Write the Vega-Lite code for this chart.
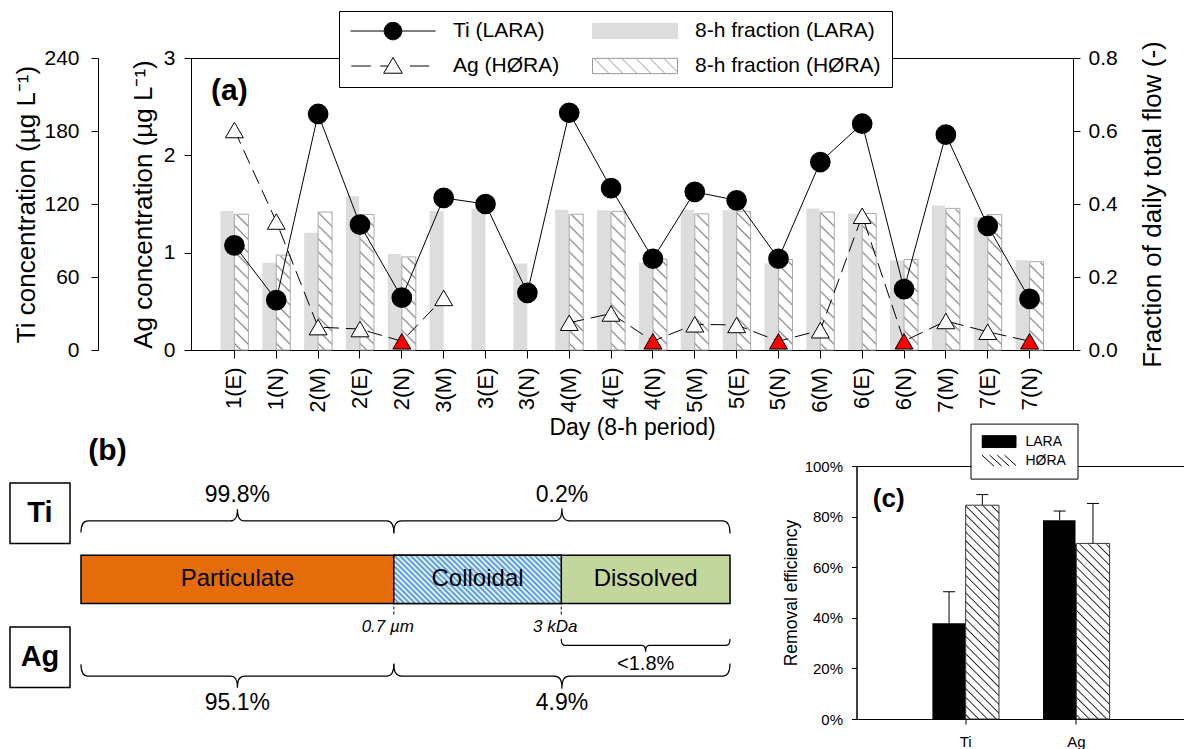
{
"$schema": "https://vega.github.io/schema/vega-lite/v6.json",
"background": "white",
"padding": {"left": 9, "top": 10, "right": 0, "bottom": 0},
"spacing": -18,
"resolve": {"scale": {"fill": "independent", "stroke": "independent", "opacity": "independent", "size": "independent", "shape": "independent", "xOffset": "independent"}},
"config": {
  "font": "Liberation Sans",
  "view": {"stroke": "black", "strokeWidth": 1},
  "axis": {"labelColor": "black", "titleColor": "black", "domainColor": "black", "tickColor": "black", "titleFontWeight": "normal", "grid": false},
  "legend": {"labelColor": "black"}
},
"datasets": {
  "a": [
    {"period":"1(E)","ti":86,"ag":2.26,"bdl":false,"fl":0.381,"fh":0.372},
    {"period":"1(N)","ti":41,"ag":1.32,"bdl":false,"fl":0.239,"fh":0.26},
    {"period":"2(M)","ti":194,"ag":0.235,"bdl":false,"fl":0.321,"fh":0.378},
    {"period":"2(E)","ti":103,"ag":0.215,"bdl":false,"fl":0.421,"fh":0.371},
    {"period":"2(N)","ti":43,"ag":0.09,"bdl":true,"fl":0.263,"fh":0.255},
    {"period":"3(M)","ti":125,"ag":0.535,"bdl":false,"fl":0.381,"fh":null},
    {"period":"3(E)","ti":120,"ag":null,"bdl":false,"fl":0.388,"fh":null},
    {"period":"3(N)","ti":47,"ag":null,"bdl":false,"fl":0.237,"fh":null},
    {"period":"4(M)","ti":195,"ag":0.28,"bdl":false,"fl":0.384,"fh":0.372},
    {"period":"4(E)","ti":133,"ag":0.375,"bdl":false,"fl":0.383,"fh":0.38},
    {"period":"4(N)","ti":75,"ag":0.09,"bdl":true,"fl":0.24,"fh":0.249},
    {"period":"5(M)","ti":130,"ag":0.264,"bdl":false,"fl":0.384,"fh":0.373},
    {"period":"5(E)","ti":123,"ag":0.257,"bdl":false,"fl":0.383,"fh":0.38},
    {"period":"5(N)","ti":75,"ag":0.09,"bdl":true,"fl":0.238,"fh":0.248},
    {"period":"6(M)","ti":154.5,"ag":0.203,"bdl":false,"fl":0.388,"fh":0.378},
    {"period":"6(E)","ti":186,"ag":1.379,"bdl":false,"fl":0.373,"fh":0.374},
    {"period":"6(N)","ti":50,"ag":0.09,"bdl":true,"fl":0.245,"fh":0.248},
    {"period":"7(M)","ti":177,"ag":0.298,"bdl":false,"fl":0.396,"fh":0.388},
    {"period":"7(E)","ti":102,"ag":0.187,"bdl":false,"fl":0.364,"fh":0.371},
    {"period":"7(N)","ti":42,"ag":0.09,"bdl":true,"fl":0.246,"fh":0.242}
  ],
  "a_legend": [{"k":"Ti (LARA)"},{"k":"Ag (HØRA)"},{"k":"8-h fraction (LARA)"},{"k":"8-h fraction (HØRA)"}],
  "c": [
    {"metal":"Ti","plant":"LARA","eff":0.378,"hi":0.503},
    {"metal":"Ti","plant":"HØRA","eff":0.845,"hi":0.887},
    {"metal":"Ag","plant":"LARA","eff":0.786,"hi":0.822},
    {"metal":"Ag","plant":"HØRA","eff":0.694,"hi":0.852}
  ],
  "c_legend": [{"p":"LARA"},{"p":"HØRA"}],
  "segments": [{"name":"Particulate","from":0,"to":48.2},{"name":"Colloidal","from":48.2,"to":74},{"name":"Dissolved","from":74,"to":100}],
  "ti_frac": [{"label":"99.8%","from":0,"to":48.2},{"label":"0.2%","from":48.2,"to":100}],
  "ag_frac": [{"label":"95.1%","from":0,"to":48.2},{"label":"4.9%","from":48.2,"to":100}],
  "ag_dissolved": [{"label":"<1.8%","from":74,"to":100}],
  "cutoffs": [{"label":"0.7 µm","at":48.2},{"label":"3 kDa","at":74}]
},
"vconcat": [
{
  "width": 882, "height": 292,
  "data": {"name": "a"},
  "encoding": {
    "x": {"field": "period", "type": "nominal",
      "scale": {"domain": ["1(E)","1(N)","2(M)","2(E)","2(N)","3(M)","3(E)","3(N)","4(M)","4(E)","4(N)","5(M)","5(E)","5(N)","6(M)","6(E)","6(N)","7(M)","7(E)","7(N)"], "paddingInner": 0.331, "paddingOuter": 0.703},
      "axis": {"title": "Day (8-h period)", "labelAngle": -90, "labelFontSize": 22, "labelPadding": 9, "tickSize": 8, "titleFontSize": 23, "titlePadding": 4, "labelOverlap": false}}
  },
  "layer": [
    {"layer": [
      {"mark": {"type": "bar", "fill": "#dddddd"},
       "encoding": {
         "xOffset": {"datum": "LARA", "type": "nominal", "scale": {"domain": ["LARA","HØRA"], "paddingInner": 0, "paddingOuter": 0}},
         "y": {"field": "fl", "type": "quantitative", "scale": {"domain": [0, 0.8], "nice": false},
               "axis": {"orient": "right", "values": [0,0.2,0.4,0.6,0.8], "format": ".1f", "tickSize": 7, "labelPadding": 8, "labelFontSize": 21, "title": "Fraction of daily total flow (-)", "titleFontSize": 26, "titleAngle": 270, "titleBaseline": "top", "titlePadding": 22, "titleLimit": 600}}}},
      {"transform": [{"filter": "isValid(datum.fh)"}],
       "mark": {"type": "bar", "fill": {"gradient": "linear", "x1": 0, "y1": 1, "x2": 0.0821, "y2": -0.0704, "stops": [
{"offset":0.0243,"color":"#ffffff"},{"offset":0.0333,"color":"#888888"},{"offset":0.0423,"color":"#ffffff"},
{"offset":0.091,"color":"#ffffff"},{"offset":0.1,"color":"#888888"},{"offset":0.109,"color":"#ffffff"},
{"offset":0.1577,"color":"#ffffff"},{"offset":0.1667,"color":"#888888"},{"offset":0.1757,"color":"#ffffff"},
{"offset":0.2243,"color":"#ffffff"},{"offset":0.2333,"color":"#888888"},{"offset":0.2423,"color":"#ffffff"},
{"offset":0.291,"color":"#ffffff"},{"offset":0.3,"color":"#888888"},{"offset":0.309,"color":"#ffffff"},
{"offset":0.3577,"color":"#ffffff"},{"offset":0.3667,"color":"#888888"},{"offset":0.3757,"color":"#ffffff"},
{"offset":0.4243,"color":"#ffffff"},{"offset":0.4333,"color":"#888888"},{"offset":0.4423,"color":"#ffffff"},
{"offset":0.491,"color":"#ffffff"},{"offset":0.5,"color":"#888888"},{"offset":0.509,"color":"#ffffff"},
{"offset":0.5577,"color":"#ffffff"},{"offset":0.5667,"color":"#888888"},{"offset":0.5757,"color":"#ffffff"},
{"offset":0.6243,"color":"#ffffff"},{"offset":0.6333,"color":"#888888"},{"offset":0.6423,"color":"#ffffff"},
{"offset":0.691,"color":"#ffffff"},{"offset":0.7,"color":"#888888"},{"offset":0.709,"color":"#ffffff"},
{"offset":0.7577,"color":"#ffffff"},{"offset":0.7667,"color":"#888888"},{"offset":0.7757,"color":"#ffffff"},
{"offset":0.8243,"color":"#ffffff"},{"offset":0.8333,"color":"#888888"},{"offset":0.8423,"color":"#ffffff"},
{"offset":0.891,"color":"#ffffff"},{"offset":0.9,"color":"#888888"},{"offset":0.909,"color":"#ffffff"},
{"offset":0.9577,"color":"#ffffff"},{"offset":0.9667,"color":"#888888"},{"offset":0.9757,"color":"#ffffff"}]}},
       "encoding": {
         "xOffset": {"datum": "HØRA", "type": "nominal", "scale": {"domain": ["LARA","HØRA"], "paddingInner": 0, "paddingOuter": 0}},
         "y": {"datum": 0.5, "type": "quantitative", "scale": {"domain": [0, 0.8], "nice": false},
               "axis": {"orient": "right", "values": [0,0.2,0.4,0.6,0.8], "format": ".1f", "tickSize": 7, "labelPadding": 8, "labelFontSize": 21, "title": "Fraction of daily total flow (-)", "titleFontSize": 26, "titleAngle": 270, "titleBaseline": "top", "titlePadding": 22, "titleLimit": 600}},
         "y2": {"datum": 0}}},
      {"transform": [{"filter": "isValid(datum.fh)"}],
       "mark": {"type": "bar", "fill": "#ffffff", "stroke": "#ffffff", "strokeWidth": 1.6},
       "encoding": {
         "xOffset": {"datum": "HØRA", "type": "nominal", "scale": {"domain": ["LARA","HØRA"], "paddingInner": 0, "paddingOuter": 0}},
         "y": {"field": "fh", "type": "quantitative", "scale": {"domain": [0, 0.8], "nice": false},
               "axis": {"orient": "right", "values": [0,0.2,0.4,0.6,0.8], "format": ".1f", "tickSize": 7, "labelPadding": 8, "labelFontSize": 21, "title": "Fraction of daily total flow (-)", "titleFontSize": 26, "titleAngle": 270, "titleBaseline": "top", "titlePadding": 22, "titleLimit": 600}},
         "y2": {"datum": 0.5}}},
      {"transform": [{"filter": "isValid(datum.fh)"}],
       "mark": {"type": "bar", "fill": "#ffffff", "fillOpacity": 0, "stroke": "#aaaaaa", "strokeWidth": 1},
       "encoding": {
         "xOffset": {"datum": "HØRA", "type": "nominal", "scale": {"domain": ["LARA","HØRA"], "paddingInner": 0, "paddingOuter": 0}},
         "y": {"field": "fh", "type": "quantitative", "scale": {"domain": [0, 0.8], "nice": false},
               "axis": {"orient": "right", "values": [0,0.2,0.4,0.6,0.8], "format": ".1f", "tickSize": 7, "labelPadding": 8, "labelFontSize": 21, "title": "Fraction of daily total flow (-)", "titleFontSize": 26, "titleAngle": 270, "titleBaseline": "top", "titlePadding": 22, "titleLimit": 600}}}}
    ]},
    {"layer": [
      {"mark": {"type": "line", "color": "black", "strokeWidth": 1, "strokeDash": [15, 7], "invalid": "break-paths-show-domains"},
       "encoding": {"y": {"field": "ag", "type": "quantitative", "scale": {"domain": [0, 3], "nice": false},
          "axis": {"orient": "left", "values": [0,1,2,3], "format": "d", "tickSize": 7, "labelPadding": 9, "labelFontSize": 21, "title": "Ag concentration (µg L⁻¹)", "titleFontSize": 26, "titlePadding": 7, "titleLimit": 600}}}},
      {"mark": {"type": "point", "shape": "triangle-up", "size": 320, "filled": true, "stroke": "black", "strokeWidth": 1, "opacity": 1},
       "encoding": {"y": {"field": "ag", "type": "quantitative", "scale": {"domain": [0, 3], "nice": false},
          "axis": {"orient": "left", "values": [0,1,2,3], "format": "d", "tickSize": 7, "labelPadding": 9, "labelFontSize": 21, "title": "Ag concentration (µg L⁻¹)", "titleFontSize": 26, "titlePadding": 7, "titleLimit": 600}},
          "fill": {"condition": {"test": "datum.bdl", "value": "#ff0000"}, "value": "#ffffff"}}},
      {"data": {"values": [{"t": "(a)"}]},
       "mark": {"type": "text", "fontSize": 30, "fontWeight": "bold", "baseline": "middle", "align": "center", "dx": -5},
       "encoding": {
         "text": {"field": "t", "type": "nominal"},
         "x": {"datum": "1(E)", "type": "nominal",
           "scale": {"domain": ["1(E)","1(N)","2(M)","2(E)","2(N)","3(M)","3(E)","3(N)","4(M)","4(E)","4(N)","5(M)","5(E)","5(N)","6(M)","6(E)","6(N)","7(M)","7(E)","7(N)"], "paddingInner": 0.331, "paddingOuter": 0.703},
           "axis": {"title": "Day (8-h period)", "labelAngle": -90, "labelFontSize": 22, "labelPadding": 9, "tickSize": 8, "titleFontSize": 23, "titlePadding": 4, "labelOverlap": false}},
         "y": {"datum": 2.66, "type": "quantitative", "scale": {"domain": [0, 3], "nice": false},
          "axis": {"orient": "left", "values": [0,1,2,3], "format": "d", "tickSize": 7, "labelPadding": 9, "labelFontSize": 21, "title": "Ag concentration (µg L⁻¹)", "titleFontSize": 26, "titlePadding": 7, "titleLimit": 600}}}}
    ]},
    {"layer": [
      {"mark": {"type": "line", "color": "black", "strokeWidth": 1},
       "encoding": {"y": {"field": "ti", "type": "quantitative", "scale": {"domain": [0, 240], "nice": false},
          "axis": {"orient": "left", "offset": 93, "values": [0,60,120,180,240], "format": "d", "tickSize": 7, "labelPadding": 12, "labelFontSize": 21, "title": "Ti concentration (µg L⁻¹)", "titleFontSize": 26, "titlePadding": 4, "titleLimit": 600}}}},
      {"mark": {"type": "point", "shape": "circle", "filled": true, "fill": "black", "stroke": "black", "size": 350, "opacity": 1},
       "encoding": {
         "y": {"field": "ti", "type": "quantitative", "scale": {"domain": [0, 240], "nice": false},
          "axis": {"orient": "left", "offset": 93, "values": [0,60,120,180,240], "format": "d", "tickSize": 7, "labelPadding": 12, "labelFontSize": 21, "title": "Ti concentration (µg L⁻¹)", "titleFontSize": 26, "titlePadding": 4, "titleLimit": 600}}}},
      {"data": {"name": "a_legend"},
       "mark": {"type": "point", "filled": true, "opacity": 0},
       "encoding": {
         "x": {"datum": "1(E)", "type": "nominal",
           "scale": {"domain": ["1(E)","1(N)","2(M)","2(E)","2(N)","3(M)","3(E)","3(N)","4(M)","4(E)","4(N)","5(M)","5(E)","5(N)","6(M)","6(E)","6(N)","7(M)","7(E)","7(N)"], "paddingInner": 0.331, "paddingOuter": 0.703},
           "axis": {"title": "Day (8-h period)", "labelAngle": -90, "labelFontSize": 22, "labelPadding": 9, "tickSize": 8, "titleFontSize": 23, "titlePadding": 4, "labelOverlap": false}},
         "y": {"datum": 0, "type": "quantitative", "scale": {"domain": [0, 240], "nice": false},
          "axis": {"orient": "left", "offset": 93, "values": [0,60,120,180,240], "format": "d", "tickSize": 7, "labelPadding": 12, "labelFontSize": 21, "title": "Ti concentration (µg L⁻¹)", "titleFontSize": 26, "titlePadding": 4, "titleLimit": 600}},
         "shape": {"field": "k", "type": "nominal",
           "scale": {"domain": ["Ti (LARA)", "Ag (HØRA)", "8-h fraction (LARA)", "8-h fraction (HØRA)"],
                     "range": ["M-1,0H-0.21M0.21,0H1M-0.207,0A0.207,0.207,0,1,1,0.207,0A0.207,0.207,0,1,1,-0.207,0Z", "M-0.98,0H-0.52M-0.3,0H-0.12M0.4,0H0.85M0,-0.2L0.22,0.17L-0.22,0.17Z", "M-1,-0.18H1V0.18H-1Z", "M-1,-0.18H1V0.18H-1ZM-0.97,-0.18L-0.61,0.18M-0.64,-0.18L-0.28,0.18M-0.31,-0.18L0.05,0.18M0.02,-0.18L0.38,0.18M0.35,-0.18L0.71,0.18M0.68,-0.18L1,0.14"]},
           "legend": {"title": null, "orient": "none", "legendX": 148, "legendY": -47, "columns": 2, "symbolSize": 7225, "symbolOpacity": 1, "symbolStrokeWidth": 1, "labelFontSize": 21, "labelLimit": 400, "labelOffset": 17, "columnPadding": 32, "rowPadding": 14, "clipHeight": 18, "padding": 11, "strokeColor": "black", "fillColor": "white", "cornerRadius": 0}},
         "fill": {"field": "k", "type": "nominal",
           "scale": {"domain": ["Ti (LARA)", "Ag (HØRA)", "8-h fraction (LARA)", "8-h fraction (HØRA)"], "range": ["#000000", "#ffffff", "#dddddd", "#ffffff"]},
           "legend": {"title": null, "orient": "none", "legendX": 148, "legendY": -47, "columns": 2, "symbolSize": 7225, "symbolOpacity": 1, "symbolStrokeWidth": 1, "labelFontSize": 21, "labelLimit": 400, "labelOffset": 17, "columnPadding": 32, "rowPadding": 14, "clipHeight": 18, "padding": 11, "strokeColor": "black", "fillColor": "white", "cornerRadius": 0}},
         "stroke": {"field": "k", "type": "nominal",
           "scale": {"domain": ["Ti (LARA)", "Ag (HØRA)", "8-h fraction (LARA)", "8-h fraction (HØRA)"], "range": ["#000000", "#000000", "#dddddd", "#999999"]},
           "legend": {"title": null, "orient": "none", "legendX": 148, "legendY": -47, "columns": 2, "symbolSize": 7225, "symbolOpacity": 1, "symbolStrokeWidth": 1, "labelFontSize": 21, "labelLimit": 400, "labelOffset": 17, "columnPadding": 32, "rowPadding": 14, "clipHeight": 18, "padding": 11, "strokeColor": "black", "fillColor": "white", "cornerRadius": 0}}
       }}
    ]}
  ],
  "resolve": {"scale": {"y": "independent"}, "axis": {"y": "independent"}}
},
{
  "spacing": 38.5,
  "resolve": {"scale": {"fill": "independent", "stroke": "independent", "shape": "independent", "size": "independent", "xOffset": "independent"}},
  "hconcat": [
  {
    "width": 552, "height": 277.7,
    "view": {"stroke": null},
    "layer": [
      {"data": {"values": [{"metal": "Ti"}]},
       "mark": {"type": "rect", "fill": "#ffffff", "stroke": "#000000", "strokeWidth": 1.5},
       "encoding": {"x": {"datum": -10.94, "type": "quantitative", "scale": {"domain": [16.95, 102], "nice": false, "zero": false}, "axis": null}, "x2": {"datum": -1.69},
                    "y": {"datum": 24.97, "type": "quantitative", "scale": {"domain": [-29, 28.49], "nice": false, "zero": false}, "axis": null}, "y2": {"datum": 12.42}}},
      {"data": {"values": [{"metal": "Ti"}]},
       "mark": {"type": "text", "fontSize": 29, "fontWeight": "bold", "baseline": "middle", "align": "center"},
       "encoding": {"text": {"field": "metal", "type": "nominal"},
                    "x": {"datum": -6.32, "type": "quantitative", "scale": {"domain": [16.95, 102], "nice": false, "zero": false}, "axis": null},
                    "y": {"datum": 18.7, "type": "quantitative", "scale": {"domain": [-29, 28.49], "nice": false, "zero": false}, "axis": null}}},
      {"data": {"values": [{"metal": "Ag"}]},
       "mark": {"type": "rect", "fill": "#ffffff", "stroke": "#000000", "strokeWidth": 1.5},
       "encoding": {"x": {"datum": -10.94, "type": "quantitative", "scale": {"domain": [16.95, 102], "nice": false, "zero": false}, "axis": null}, "x2": {"datum": -1.69},
                    "y": {"datum": -4.84, "type": "quantitative", "scale": {"domain": [-29, 28.49], "nice": false, "zero": false}, "axis": null}, "y2": {"datum": -17.39}}},
      {"data": {"values": [{"metal": "Ag"}]},
       "mark": {"type": "text", "fontSize": 29, "fontWeight": "bold", "baseline": "middle", "align": "center"},
       "encoding": {"text": {"field": "metal", "type": "nominal"},
                    "x": {"datum": -6.32, "type": "quantitative", "scale": {"domain": [16.95, 102], "nice": false, "zero": false}, "axis": null},
                    "y": {"datum": -11.1, "type": "quantitative", "scale": {"domain": [-29, 28.49], "nice": false, "zero": false}, "axis": null}}},
      {"data": {"values": [{"t": "(b)"}]},
       "mark": {"type": "text", "fontSize": 30, "fontWeight": "bold", "baseline": "middle", "align": "center"},
       "encoding": {"text": {"field": "t", "type": "nominal"},
                    "x": {"datum": 4.08, "type": "quantitative", "scale": {"domain": [16.95, 102], "nice": false, "zero": false}, "axis": null},
                    "y": {"datum": 31.5, "type": "quantitative", "scale": {"domain": [-29, 28.49], "nice": false, "zero": false}, "axis": null}}},
      {"data": {"name": "ti_frac"},
       "transform": [{"calculate": "(datum.from + datum.to) / 2", "as": "mid"}, {"calculate": "datum.to - datum.from", "as": "span"}],
       "mark": {"type": "point", "shape": "M-1,0.075C-1,0.02,-0.985,0,-0.955,0L-0.045,0C-0.015,0,0,-0.02,0,-0.075C0,-0.02,0.015,0,0.045,0L0.955,0C0.985,0,1,0.02,1,0.075", "filled": false, "stroke": "#000000", "strokeWidth": 1.2, "opacity": 1},
       "encoding": {"x": {"field": "mid", "type": "quantitative", "scale": {"domain": [16.95, 102], "nice": false, "zero": false}, "axis": null},
                    "y": {"datum": 17.13, "type": "quantitative", "scale": {"domain": [-29, 28.49], "nice": false, "zero": false}, "axis": null},
                    "size": {"field": "span", "type": "quantitative", "scale": {"type": "pow", "exponent": 2, "domain": [0, 100], "range": [0, 421201]}, "legend": null}}},
      {"data": {"name": "ti_frac"},
       "transform": [{"calculate": "(datum.from + datum.to) / 2", "as": "mid"}],
       "mark": {"type": "text", "fontSize": 23, "baseline": "middle", "align": "center"},
       "encoding": {"text": {"field": "label", "type": "nominal"},
                    "x": {"field": "mid", "type": "quantitative", "scale": {"domain": [16.95, 102], "nice": false, "zero": false}, "axis": null},
                    "y": {"datum": 22.42, "type": "quantitative", "scale": {"domain": [-29, 28.49], "nice": false, "zero": false}, "axis": null}}},
      {"data": {"name": "segments"},
       "mark": {"type": "rect", "stroke": "#000000", "strokeWidth": 1.5},
       "encoding": {"x": {"field": "from", "type": "quantitative", "scale": {"domain": [16.95, 102], "nice": false, "zero": false}, "axis": null}, "x2": {"field": "to"},
                    "y": {"datum": 0, "type": "quantitative", "scale": {"domain": [-29, 28.49], "nice": false, "zero": false}, "axis": null}, "y2": {"datum": 10},
                    "fill": {"field": "name", "type": "nominal", "scale": {"domain": ["Particulate","Colloidal","Dissolved"], "range": ["#E46C0A","#ffffff","#C3D69B"]}, "legend": null}}},
      {"data": {"name": "segments"},
       "transform": [{"filter": "datum.name === 'Colloidal'"}],
       "mark": {"type": "rect", "stroke": "#000000", "strokeWidth": 1.5, "fill": {"gradient": "linear", "x1": 0, "y1": 1, "x2": 1.1895, "y2": 0.6568, "stops": [
{"offset":0,"color":"#3f8fd8"},{"offset":0.0125,"color":"#ffffff"},{"offset":0.025,"color":"#3f8fd8"},{"offset":0.0375,"color":"#ffffff"},
{"offset":0.05,"color":"#3f8fd8"},{"offset":0.0625,"color":"#ffffff"},{"offset":0.075,"color":"#3f8fd8"},{"offset":0.0875,"color":"#ffffff"},
{"offset":0.1,"color":"#3f8fd8"},{"offset":0.1125,"color":"#ffffff"},{"offset":0.125,"color":"#3f8fd8"},{"offset":0.1375,"color":"#ffffff"},
{"offset":0.15,"color":"#3f8fd8"},{"offset":0.1625,"color":"#ffffff"},{"offset":0.175,"color":"#3f8fd8"},{"offset":0.1875,"color":"#ffffff"},
{"offset":0.2,"color":"#3f8fd8"},{"offset":0.2125,"color":"#ffffff"},{"offset":0.225,"color":"#3f8fd8"},{"offset":0.2375,"color":"#ffffff"},
{"offset":0.25,"color":"#3f8fd8"},{"offset":0.2625,"color":"#ffffff"},{"offset":0.275,"color":"#3f8fd8"},{"offset":0.2875,"color":"#ffffff"},
{"offset":0.3,"color":"#3f8fd8"},{"offset":0.3125,"color":"#ffffff"},{"offset":0.325,"color":"#3f8fd8"},{"offset":0.3375,"color":"#ffffff"},
{"offset":0.35,"color":"#3f8fd8"},{"offset":0.3625,"color":"#ffffff"},{"offset":0.375,"color":"#3f8fd8"},{"offset":0.3875,"color":"#ffffff"},
{"offset":0.4,"color":"#3f8fd8"},{"offset":0.4125,"color":"#ffffff"},{"offset":0.425,"color":"#3f8fd8"},{"offset":0.4375,"color":"#ffffff"},
{"offset":0.45,"color":"#3f8fd8"},{"offset":0.4625,"color":"#ffffff"},{"offset":0.475,"color":"#3f8fd8"},{"offset":0.4875,"color":"#ffffff"},
{"offset":0.5,"color":"#3f8fd8"},{"offset":0.5125,"color":"#ffffff"},{"offset":0.525,"color":"#3f8fd8"},{"offset":0.5375,"color":"#ffffff"},
{"offset":0.55,"color":"#3f8fd8"},{"offset":0.5625,"color":"#ffffff"},{"offset":0.575,"color":"#3f8fd8"},{"offset":0.5875,"color":"#ffffff"},
{"offset":0.6,"color":"#3f8fd8"},{"offset":0.6125,"color":"#ffffff"},{"offset":0.625,"color":"#3f8fd8"},{"offset":0.6375,"color":"#ffffff"},
{"offset":0.65,"color":"#3f8fd8"},{"offset":0.6625,"color":"#ffffff"},{"offset":0.675,"color":"#3f8fd8"},{"offset":0.6875,"color":"#ffffff"},
{"offset":0.7,"color":"#3f8fd8"},{"offset":0.7125,"color":"#ffffff"},{"offset":0.725,"color":"#3f8fd8"},{"offset":0.7375,"color":"#ffffff"},
{"offset":0.75,"color":"#3f8fd8"},{"offset":0.7625,"color":"#ffffff"},{"offset":0.775,"color":"#3f8fd8"},{"offset":0.7875,"color":"#ffffff"},
{"offset":0.8,"color":"#3f8fd8"},{"offset":0.8125,"color":"#ffffff"},{"offset":0.825,"color":"#3f8fd8"},{"offset":0.8375,"color":"#ffffff"},
{"offset":0.85,"color":"#3f8fd8"},{"offset":0.8625,"color":"#ffffff"},{"offset":0.875,"color":"#3f8fd8"},{"offset":0.8875,"color":"#ffffff"},
{"offset":0.9,"color":"#3f8fd8"},{"offset":0.9125,"color":"#ffffff"},{"offset":0.925,"color":"#3f8fd8"},{"offset":0.9375,"color":"#ffffff"},
{"offset":0.95,"color":"#3f8fd8"},{"offset":0.9625,"color":"#ffffff"},{"offset":0.975,"color":"#3f8fd8"},{"offset":0.9875,"color":"#ffffff"},
{"offset":1,"color":"#3f8fd8"}]}},
       "encoding": {"x": {"field": "from", "type": "quantitative", "scale": {"domain": [16.95, 102], "nice": false, "zero": false}, "axis": null}, "x2": {"field": "to"},
                    "y": {"datum": 0, "type": "quantitative", "scale": {"domain": [-29, 28.49], "nice": false, "zero": false}, "axis": null}, "y2": {"datum": 10}}},
      {"data": {"name": "segments"},
       "transform": [{"calculate": "(datum.from + datum.to) / 2", "as": "mid"}],
       "mark": {"type": "text", "fontSize": 24, "baseline": "middle", "align": "center"},
       "encoding": {"text": {"field": "name", "type": "nominal"},
                    "x": {"field": "mid", "type": "quantitative", "scale": {"domain": [16.95, 102], "nice": false, "zero": false}, "axis": null},
                    "y": {"datum": 5, "type": "quantitative", "scale": {"domain": [-29, 28.49], "nice": false, "zero": false}, "axis": null}}},
      {"data": {"name": "cutoffs"},
       "mark": {"type": "rule", "stroke": "#000000", "strokeWidth": 1, "strokeDash": [3, 2]},
       "encoding": {"x": {"field": "at", "type": "quantitative", "scale": {"domain": [16.95, 102], "nice": false, "zero": false}, "axis": null},
                    "y": {"datum": -0.6, "type": "quantitative", "scale": {"domain": [-29, 28.49], "nice": false, "zero": false}, "axis": null}, "y2": {"datum": -2.3}}},
      {"data": {"name": "cutoffs"},
       "mark": {"type": "text", "fontSize": 17, "fontStyle": "italic", "baseline": "middle", "align": "center", "dx": -6},
       "encoding": {"text": {"field": "label", "type": "nominal"},
                    "x": {"field": "at", "type": "quantitative", "scale": {"domain": [16.95, 102], "nice": false, "zero": false}, "axis": null},
                    "y": {"datum": -4.9, "type": "quantitative", "scale": {"domain": [-29, 28.49], "nice": false, "zero": false}, "axis": null}}},
      {"data": {"name": "ag_dissolved"},
       "transform": [{"calculate": "(datum.from + datum.to) / 2", "as": "mid"}, {"calculate": "datum.to - datum.from", "as": "span"}],
       "mark": {"type": "point", "shape": "M-1,-0.075C-1,-0.02,-0.985,0,-0.955,0L-0.045,0C-0.015,0,0,0.02,0,0.075C0,0.02,0.015,0,0.045,0L0.955,0C0.985,0,1,-0.02,1,-0.075", "filled": false, "stroke": "#000000", "strokeWidth": 1.2, "opacity": 1},
       "encoding": {"x": {"field": "mid", "type": "quantitative", "scale": {"domain": [16.95, 102], "nice": false, "zero": false}, "axis": null},
                    "y": {"datum": -8.63, "type": "quantitative", "scale": {"domain": [-29, 28.49], "nice": false, "zero": false}, "axis": null},
                    "size": {"field": "span", "type": "quantitative", "scale": {"type": "pow", "exponent": 2, "domain": [0, 100], "range": [0, 421201]}, "legend": null}}},
      {"data": {"name": "ag_dissolved"},
       "transform": [{"calculate": "(datum.from + datum.to) / 2", "as": "mid"}],
       "mark": {"type": "text", "fontSize": 20, "baseline": "middle", "align": "center"},
       "encoding": {"text": {"field": "label", "type": "nominal"},
                    "x": {"field": "mid", "type": "quantitative", "scale": {"domain": [16.95, 102], "nice": false, "zero": false}, "axis": null},
                    "y": {"datum": -12.42, "type": "quantitative", "scale": {"domain": [-29, 28.49], "nice": false, "zero": false}, "axis": null}}},
      {"data": {"name": "ag_frac"},
       "transform": [{"calculate": "(datum.from + datum.to) / 2", "as": "mid"}, {"calculate": "datum.to - datum.from", "as": "span"}],
       "mark": {"type": "point", "shape": "M-1,-0.075C-1,-0.02,-0.985,0,-0.955,0L-0.045,0C-0.015,0,0,0.02,0,0.075C0,0.02,0.015,0,0.045,0L0.955,0C0.985,0,1,-0.02,1,-0.075", "filled": false, "stroke": "#000000", "strokeWidth": 1.2, "opacity": 1},
       "encoding": {"x": {"field": "mid", "type": "quantitative", "scale": {"domain": [16.95, 102], "nice": false, "zero": false}, "axis": null},
                    "y": {"datum": -14.99, "type": "quantitative", "scale": {"domain": [-29, 28.49], "nice": false, "zero": false}, "axis": null},
                    "size": {"field": "span", "type": "quantitative", "scale": {"type": "pow", "exponent": 2, "domain": [0, 100], "range": [0, 421201]}, "legend": null}}},
      {"data": {"name": "ag_frac"},
       "transform": [{"calculate": "(datum.from + datum.to) / 2", "as": "mid"}],
       "mark": {"type": "text", "fontSize": 23, "baseline": "middle", "align": "center"},
       "encoding": {"text": {"field": "label", "type": "nominal"},
                    "x": {"field": "mid", "type": "quantitative", "scale": {"domain": [16.95, 102], "nice": false, "zero": false}, "axis": null},
                    "y": {"datum": -20.64, "type": "quantitative", "scale": {"domain": [-29, 28.49], "nice": false, "zero": false}, "axis": null}}}
    ]
  },
  {
    "width": 329, "height": 253,
    "data": {"name": "c"},
    "encoding": {
      "x": {"field": "metal", "type": "nominal", "scale": {"domain": ["Ti","Ag"], "paddingInner": 0.398, "paddingOuter": 0.686},
            "axis": {"title": null, "labelAngle": 0, "labelFontSize": 15, "tickSize": 5, "labelPadding": 10}}
    },
    "layer": [
      {"transform": [{"filter": "datum.plant === 'LARA'"}],
       "mark": {"type": "bar", "fill": "#000000"},
       "encoding": {
         "xOffset": {"field": "plant", "type": "nominal", "scale": {"domain": ["LARA","HØRA"], "paddingInner": 0, "paddingOuter": 0}},
         "y": {"field": "eff", "type": "quantitative", "scale": {"domain": [0, 1], "nice": false},
               "axis": {"values": [0,0.2,0.4,0.6,0.8,1], "format": ".0%", "title": "Removal efficiency", "titleFontSize": 17.5, "labelFontSize": 15, "tickSize": 5, "labelPadding": 9, "titlePadding": 4, "titleLimit": 400}}}},
      {"transform": [{"filter": "datum.plant === 'HØRA'"}],
       "mark": {"type": "bar", "fill": {"gradient": "linear", "x1": 0, "y1": 1, "x2": 0.1639, "y2": -0.1221, "stops": [
{"offset":0.0117,"color":"#ffffff"},{"offset":0.0167,"color":"#222222"},{"offset":0.0217,"color":"#ffffff"},
{"offset":0.045,"color":"#ffffff"},{"offset":0.05,"color":"#222222"},{"offset":0.055,"color":"#ffffff"},
{"offset":0.0783,"color":"#ffffff"},{"offset":0.0833,"color":"#222222"},{"offset":0.0883,"color":"#ffffff"},
{"offset":0.1117,"color":"#ffffff"},{"offset":0.1167,"color":"#222222"},{"offset":0.1217,"color":"#ffffff"},
{"offset":0.145,"color":"#ffffff"},{"offset":0.15,"color":"#222222"},{"offset":0.155,"color":"#ffffff"},
{"offset":0.1783,"color":"#ffffff"},{"offset":0.1833,"color":"#222222"},{"offset":0.1883,"color":"#ffffff"},
{"offset":0.2117,"color":"#ffffff"},{"offset":0.2167,"color":"#222222"},{"offset":0.2217,"color":"#ffffff"},
{"offset":0.245,"color":"#ffffff"},{"offset":0.25,"color":"#222222"},{"offset":0.255,"color":"#ffffff"},
{"offset":0.2783,"color":"#ffffff"},{"offset":0.2833,"color":"#222222"},{"offset":0.2883,"color":"#ffffff"},
{"offset":0.3117,"color":"#ffffff"},{"offset":0.3167,"color":"#222222"},{"offset":0.3217,"color":"#ffffff"},
{"offset":0.345,"color":"#ffffff"},{"offset":0.35,"color":"#222222"},{"offset":0.355,"color":"#ffffff"},
{"offset":0.3783,"color":"#ffffff"},{"offset":0.3833,"color":"#222222"},{"offset":0.3883,"color":"#ffffff"},
{"offset":0.4117,"color":"#ffffff"},{"offset":0.4167,"color":"#222222"},{"offset":0.4217,"color":"#ffffff"},
{"offset":0.445,"color":"#ffffff"},{"offset":0.45,"color":"#222222"},{"offset":0.455,"color":"#ffffff"},
{"offset":0.4783,"color":"#ffffff"},{"offset":0.4833,"color":"#222222"},{"offset":0.4883,"color":"#ffffff"},
{"offset":0.5117,"color":"#ffffff"},{"offset":0.5167,"color":"#222222"},{"offset":0.5217,"color":"#ffffff"},
{"offset":0.545,"color":"#ffffff"},{"offset":0.55,"color":"#222222"},{"offset":0.555,"color":"#ffffff"},
{"offset":0.5783,"color":"#ffffff"},{"offset":0.5833,"color":"#222222"},{"offset":0.5883,"color":"#ffffff"},
{"offset":0.6117,"color":"#ffffff"},{"offset":0.6167,"color":"#222222"},{"offset":0.6217,"color":"#ffffff"},
{"offset":0.645,"color":"#ffffff"},{"offset":0.65,"color":"#222222"},{"offset":0.655,"color":"#ffffff"},
{"offset":0.6783,"color":"#ffffff"},{"offset":0.6833,"color":"#222222"},{"offset":0.6883,"color":"#ffffff"},
{"offset":0.7117,"color":"#ffffff"},{"offset":0.7167,"color":"#222222"},{"offset":0.7217,"color":"#ffffff"},
{"offset":0.745,"color":"#ffffff"},{"offset":0.75,"color":"#222222"},{"offset":0.755,"color":"#ffffff"},
{"offset":0.7783,"color":"#ffffff"},{"offset":0.7833,"color":"#222222"},{"offset":0.7883,"color":"#ffffff"},
{"offset":0.8117,"color":"#ffffff"},{"offset":0.8167,"color":"#222222"},{"offset":0.8217,"color":"#ffffff"},
{"offset":0.845,"color":"#ffffff"},{"offset":0.85,"color":"#222222"},{"offset":0.855,"color":"#ffffff"},
{"offset":0.8783,"color":"#ffffff"},{"offset":0.8833,"color":"#222222"},{"offset":0.8883,"color":"#ffffff"},
{"offset":0.9117,"color":"#ffffff"},{"offset":0.9167,"color":"#222222"},{"offset":0.9217,"color":"#ffffff"},
{"offset":0.945,"color":"#ffffff"},{"offset":0.95,"color":"#222222"},{"offset":0.955,"color":"#ffffff"},
{"offset":0.9783,"color":"#ffffff"},{"offset":0.9833,"color":"#222222"},{"offset":0.9883,"color":"#ffffff"}]}},
       "encoding": {
         "xOffset": {"field": "plant", "type": "nominal", "scale": {"domain": ["LARA","HØRA"], "paddingInner": 0, "paddingOuter": 0}},
         "y": {"datum": 0.9, "type": "quantitative", "scale": {"domain": [0, 1], "nice": false},
               "axis": {"values": [0,0.2,0.4,0.6,0.8,1], "format": ".0%", "title": "Removal efficiency", "titleFontSize": 17.5, "labelFontSize": 15, "tickSize": 5, "labelPadding": 9, "titlePadding": 4, "titleLimit": 400}},
         "y2": {"datum": 0}}},
      {"transform": [{"filter": "datum.plant === 'HØRA'"}],
       "mark": {"type": "bar", "fill": "#ffffff", "stroke": "#ffffff", "strokeWidth": 1.6},
       "encoding": {
         "xOffset": {"field": "plant", "type": "nominal", "scale": {"domain": ["LARA","HØRA"], "paddingInner": 0, "paddingOuter": 0}},
         "y": {"field": "eff", "type": "quantitative", "scale": {"domain": [0, 1], "nice": false},
               "axis": {"values": [0,0.2,0.4,0.6,0.8,1], "format": ".0%", "title": "Removal efficiency", "titleFontSize": 17.5, "labelFontSize": 15, "tickSize": 5, "labelPadding": 9, "titlePadding": 4, "titleLimit": 400}},
         "y2": {"datum": 0.9}}},
      {"transform": [{"filter": "datum.plant === 'HØRA'"}],
       "mark": {"type": "bar", "fill": "#ffffff", "fillOpacity": 0, "stroke": "#333333", "strokeWidth": 1},
       "encoding": {
         "xOffset": {"field": "plant", "type": "nominal", "scale": {"domain": ["LARA","HØRA"], "paddingInner": 0, "paddingOuter": 0}},
         "y": {"field": "eff", "type": "quantitative", "scale": {"domain": [0, 1], "nice": false},
               "axis": {"values": [0,0.2,0.4,0.6,0.8,1], "format": ".0%", "title": "Removal efficiency", "titleFontSize": 17.5, "labelFontSize": 15, "tickSize": 5, "labelPadding": 9, "titlePadding": 4, "titleLimit": 400}}}},
      {"mark": {"type": "rule", "color": "#000000", "strokeWidth": 1},
       "encoding": {
         "xOffset": {"field": "plant", "type": "nominal", "scale": {"domain": ["LARA","HØRA"], "paddingInner": 0, "paddingOuter": 0}},
         "y": {"field": "eff", "type": "quantitative", "scale": {"domain": [0, 1], "nice": false},
               "axis": {"values": [0,0.2,0.4,0.6,0.8,1], "format": ".0%", "title": "Removal efficiency", "titleFontSize": 17.5, "labelFontSize": 15, "tickSize": 5, "labelPadding": 9, "titlePadding": 4, "titleLimit": 400}},
         "y2": {"field": "hi"}}},
      {"mark": {"type": "point", "shape": "M-1,0H1", "size": 144, "filled": false, "stroke": "#000000", "strokeWidth": 1, "opacity": 1},
       "encoding": {
         "xOffset": {"field": "plant", "type": "nominal", "scale": {"domain": ["LARA","HØRA"], "paddingInner": 0, "paddingOuter": 0}},
         "y": {"field": "hi", "type": "quantitative", "scale": {"domain": [0, 1], "nice": false},
               "axis": {"values": [0,0.2,0.4,0.6,0.8,1], "format": ".0%", "title": "Removal efficiency", "titleFontSize": 17.5, "labelFontSize": 15, "tickSize": 5, "labelPadding": 9, "titlePadding": 4, "titleLimit": 400}}}},
      {"data": {"values": [{"t": "(c)"}]},
       "mark": {"type": "text", "fontSize": 26, "fontWeight": "bold", "baseline": "middle", "align": "center", "dx": -77},
       "encoding": {
         "text": {"field": "t", "type": "nominal"},
         "x": {"datum": "Ti", "type": "nominal", "scale": {"domain": ["Ti","Ag"], "paddingInner": 0.398, "paddingOuter": 0.686},
               "axis": {"title": null, "labelAngle": 0, "labelFontSize": 15, "tickSize": 5, "labelPadding": 10}},
         "y": {"datum": 0.87, "type": "quantitative", "scale": {"domain": [0, 1], "nice": false},
               "axis": {"values": [0,0.2,0.4,0.6,0.8,1], "format": ".0%", "title": "Removal efficiency", "titleFontSize": 17.5, "labelFontSize": 15, "tickSize": 5, "labelPadding": 9, "titlePadding": 4, "titleLimit": 400}}}},
      {"data": {"name": "c_legend"},
       "mark": {"type": "point", "filled": true, "opacity": 0},
       "encoding": {
         "x": {"datum": "Ti", "type": "nominal", "scale": {"domain": ["Ti","Ag"], "paddingInner": 0.398, "paddingOuter": 0.686},
               "axis": {"title": null, "labelAngle": 0, "labelFontSize": 15, "tickSize": 5, "labelPadding": 10}},
         "y": {"datum": 0, "type": "quantitative", "scale": {"domain": [0, 1], "nice": false},
               "axis": {"values": [0,0.2,0.4,0.6,0.8,1], "format": ".0%", "title": "Removal efficiency", "titleFontSize": 17.5, "labelFontSize": 15, "tickSize": 5, "labelPadding": 9, "titlePadding": 4, "titleLimit": 400}},
         "shape": {"field": "p", "type": "nominal", "scale": {"domain": ["LARA","HØRA"], "range": ["M-1,-0.35H1V0.35H-1Z", "M-1,-0.32L-0.3,0.32M-0.55,-0.32L0.15,0.32M-0.1,-0.32L0.6,0.32M0.33,-0.32L1,0.3"]},
           "legend": {"title": null, "orient": "none", "legendX": 114, "legendY": -42.4, "symbolSize": 1156, "symbolOpacity": 1, "symbolStrokeWidth": 1, "labelFontSize": 14, "labelOffset": 9, "rowPadding": 5, "clipHeight": 14, "padding": 11, "strokeColor": "black", "fillColor": "white", "cornerRadius": 0, "labelLimit": 200}},
         "fill": {"field": "p", "type": "nominal", "scale": {"domain": ["LARA","HØRA"], "range": ["#000000", "#ffffff"]},
           "legend": {"title": null, "orient": "none", "legendX": 114, "legendY": -42.4, "symbolSize": 1156, "symbolOpacity": 1, "symbolStrokeWidth": 1, "labelFontSize": 14, "labelOffset": 9, "rowPadding": 5, "clipHeight": 14, "padding": 11, "strokeColor": "black", "fillColor": "white", "cornerRadius": 0, "labelLimit": 200}},
         "stroke": {"field": "p", "type": "nominal", "scale": {"domain": ["LARA","HØRA"], "range": ["#000000", "#000000"]},
           "legend": {"title": null, "orient": "none", "legendX": 114, "legendY": -42.4, "symbolSize": 1156, "symbolOpacity": 1, "symbolStrokeWidth": 1, "labelFontSize": 14, "labelOffset": 9, "rowPadding": 5, "clipHeight": 14, "padding": 11, "strokeColor": "black", "fillColor": "white", "cornerRadius": 0, "labelLimit": 200}}
       }}
    ]
  }
  ]
}
]
}
